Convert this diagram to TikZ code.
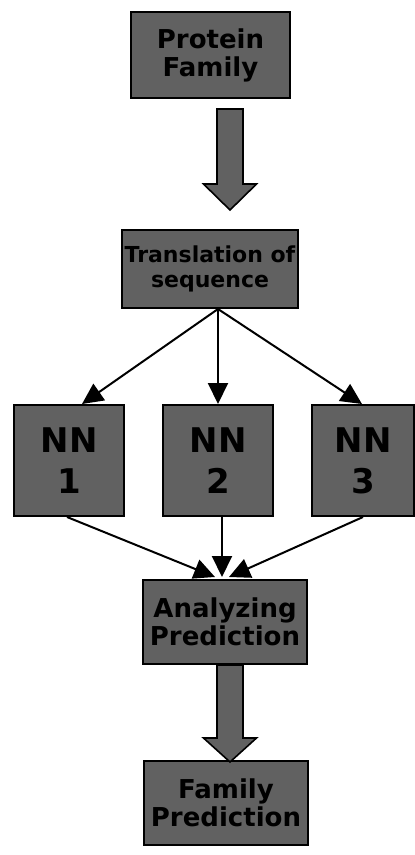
\documentclass[tikz,border=0pt]{standalone}
\usepackage{fontspec}
\setmainfont{DejaVu Sans}
\usetikzlibrary{arrows.meta,calc}
\begin{document}
\begin{tikzpicture}[x=1pt,y=-1pt,
  boxfill/.style={fill=black!62},
  stepbox/.style={boxfill,draw=black,line width=2pt,inner sep=0pt,align=center,
    font=\fontsize{26}{28}\selectfont\bfseries},
  smallbox/.style={stepbox,font=\fontsize{22}{25}\selectfont\bfseries},
  nnbox/.style={stepbox,font=\fontsize{34}{41}\selectfont\bfseries},
  link/.style={draw=black,line width=2pt,-{Triangle[length=21pt,width=20pt]}},
  blockarrow/.style={boxfill,draw=black,line width=1.6pt,line join=miter}]
\useasboundingbox (0,0) rectangle (415,855);

% process boxes
\node[stepbox,minimum width=159pt,minimum height=86pt] (prot) at (210.5,55) {Protein\\Family};
\node[smallbox,minimum width=176pt,minimum height=78pt] (trans) at (210,269) {Translation of\\sequence};
\node[nnbox,minimum width=110pt,minimum height=111pt] (nn1) at (69,460.5) {NN\\1};
\node[nnbox,minimum width=110pt,minimum height=111pt] (nn2) at (218,460.5) {NN\\2};
\node[nnbox,minimum width=102pt,minimum height=111pt] (nn3) at (363,460.5) {NN\\3};
\node[stepbox,minimum width=164pt,minimum height=84pt] (anal) at (225,622) {Analyzing\\Prediction};
\node[stepbox,minimum width=164pt,minimum height=84pt] (fam) at (226,803) {Family\\Prediction};

% wide block arrows between stages
\coordinate (a1) at ($(prot.south)+(19.5,10)$);
\draw[blockarrow] ($(a1)+(-13,0)$) -- ($(a1)+(13,0)$) -- ($(a1)+(13,75)$) -- ($(a1)+(26.5,75)$)
  -- ($(a1)+(0,101)$) -- ($(a1)+(-26.5,75)$) -- ($(a1)+(-13,75)$) -- cycle;
\coordinate (a2) at ($(anal.south)+(5,0)$);
\draw[blockarrow] ($(a2)+(-13,0)$) -- ($(a2)+(13,0)$) -- ($(a2)+(13,73)$) -- ($(a2)+(26.5,73)$)
  -- ($(a2)+(0,97)$) -- ($(a2)+(-26.5,73)$) -- ($(a2)+(-13,73)$) -- cycle;

% fan-out to the three networks
\coordinate (split) at ($(trans.south)+(8,0)$);
\draw[link] (split) -- ($(nn1.north)+(13,0)$);
\draw[link] (split) -- (nn2.north);
\draw[link] (split) -- ($(nn3.north)+(-1,0)$);

% fan-in to the analysis stage
\draw[link] ($(nn1.south)+(-2,0)$) -- ($(anal.north)+(-10,-2)$);
\draw[link] ($(nn2.south)+(4,0)$) -- ($(anal.north)+(-3,-2)$);
\draw[link] (nn3.south) -- ($(anal.north)+(4,-2)$);
\end{tikzpicture}
\end{document}
